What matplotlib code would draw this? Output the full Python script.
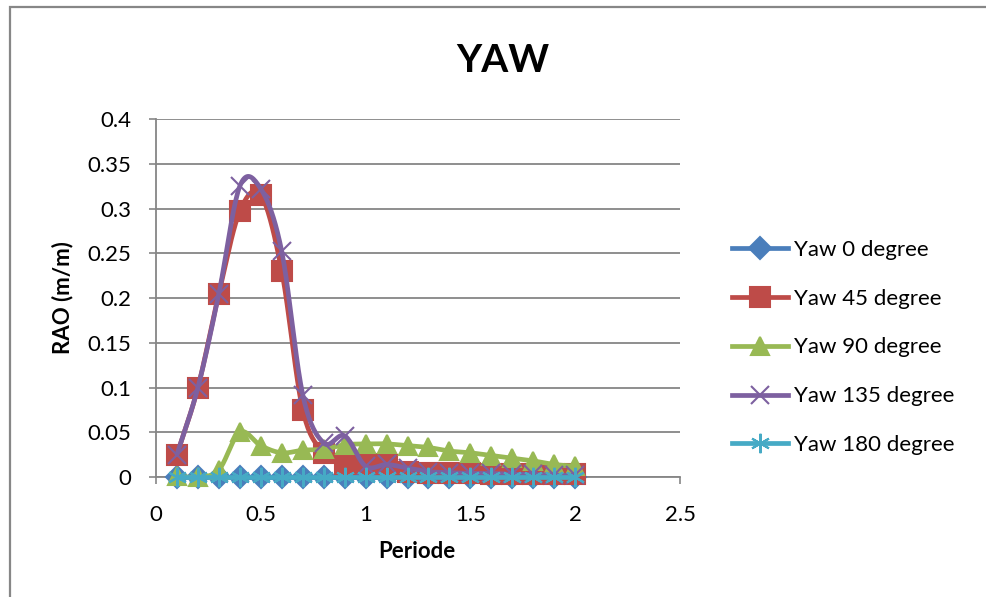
import numpy as np
import matplotlib.pyplot as plt
from matplotlib.patches import Rectangle

periode = [0.1, 0.2, 0.3, 0.4, 0.5, 0.6, 0.7, 0.8, 0.9, 1.0,
           1.1, 1.2, 1.3, 1.4, 1.5, 1.6, 1.7, 1.8, 1.9, 2.0]

yaw_0 = [0.0] * 20
yaw_45 = [0.025, 0.1, 0.205, 0.297, 0.315, 0.23, 0.075, 0.027, 0.015, 0.015,
          0.013, 0.006, 0.004, 0.004, 0.004, 0.003, 0.003, 0.003, 0.003, 0.003]
yaw_90 = [0.001, 0.0, 0.008, 0.05, 0.035, 0.027, 0.03, 0.031, 0.036, 0.037,
          0.037, 0.035, 0.033, 0.029, 0.027, 0.024, 0.021, 0.018, 0.014, 0.012]
yaw_135 = [0.025, 0.1, 0.205, 0.325, 0.322, 0.252, 0.092, 0.038, 0.046, 0.012,
           0.014, 0.01, 0.006, 0.005, 0.004, 0.004, 0.003, 0.003, 0.002, 0.002]
yaw_180 = [0.0] * 20

labels = ["Yaw 0 degree", "Yaw 45 degree", "Yaw 90 degree",
          "Yaw 135 degree", "Yaw 180 degree"]
x_ticks = [0, 0.5, 1, 1.5, 2, 2.5]
x_labels = ["0", "0.5", "1", "1.5", "2", "2.5"]
y_ticks = [0, 0.05, 0.1, 0.15, 0.2, 0.25, 0.3, 0.35, 0.4]
y_labels = ["0", "0.05", "0.1", "0.15", "0.2", "0.25", "0.3", "0.35", "0.4"]


def smooth(x, y, n=20):
    # Catmull-Rom curve through the points, like Excel's smoothed line
    x = np.asarray(x, float)
    y = np.asarray(y, float)
    px = np.concatenate([[2 * x[0] - x[1]], x, [2 * x[-1] - x[-2]]])
    py = np.concatenate([[2 * y[0] - y[1]], y, [2 * y[-1] - y[-2]]])
    t = np.linspace(0, 1, n, endpoint=False)
    xs, ys = [], []
    for i in range(1, len(px) - 2):
        for p, out in ((px, xs), (py, ys)):
            p0, p1, p2, p3 = p[i - 1], p[i], p[i + 1], p[i + 2]
            out.extend(0.5 * (2 * p1 + (-p0 + p2) * t
                              + (2 * p0 - 5 * p1 + 4 * p2 - p3) * t ** 2
                              + (-p0 + 3 * p1 - 3 * p2 + p3) * t ** 3))
    xs.append(x[-1])
    ys.append(y[-1])
    return xs, ys


plt.rcParams['font.family'] = ['Lato', 'DejaVu Sans']

fig = plt.figure(figsize=(9.87, 5.97), dpi=100)
ax = fig.add_axes([156 / 987, 1 - 477 / 597, 524 / 987, 358 / 597])

# outer chart frame
fig.patches.append(Rectangle((10 / 987, -0.2), 1.2, 1.2 - 6.5 / 597,
                             transform=fig.transFigure, fill=False,
                             edgecolor='#878787', linewidth=1.6))

series = [yaw_0, yaw_45, yaw_90, yaw_135, yaw_180]
colors = ['#4A7EBB', '#BE4B48', '#98B954', '#7D60A0', '#46AAC5']
markers = ['D', 's', '^', 'x', (6, 2, 0)]
sizes = [11, 14, 13, 13, 14]

for vals, lab, c, m, s in zip(series, labels, colors, markers, sizes):
    sx, sy = smooth(periode, vals)
    ax.plot(sx, sy, color=c, linewidth=3.4, solid_capstyle='round', zorder=3,
            clip_on=False)
    ax.plot(periode, vals, linestyle='none', marker=m, markersize=s,
            color=c, markeredgecolor=c, markeredgewidth=1.5, zorder=3,
            clip_on=False)
    ax.plot([], [], color=c, linewidth=3.4, marker=m, markersize=s,
            markeredgewidth=1.5, label=lab)

ax.set_xlim(0, 2.5)
ax.set_ylim(0, 0.4)
ax.set_xticks(x_ticks)
ax.set_xticklabels(x_labels)
ax.set_yticks(y_ticks)
ax.set_yticklabels(y_labels)
ax.tick_params(axis='both', labelsize=16, color='#868686', length=5, width=1.2)
ax.tick_params(axis='x', pad=15)
ax.tick_params(axis='y', pad=13)

ax.grid(axis='y', color='#868686', linewidth=1.3)
ax.set_axisbelow(True)
for side in ['top', 'right']:
    ax.spines[side].set_visible(False)
for side in ['left', 'bottom']:
    ax.spines[side].set_color('#868686')
    ax.spines[side].set_linewidth(1.3)

ax.text((417 - 156) / 524, (477 - 552) / 358, 'Periode', transform=ax.transAxes,
        fontsize=16, fontweight='bold', ha='center', va='center')
ax.text((63 - 156) / 524, 0.5, 'RAO (m/m)', transform=ax.transAxes,
        fontsize=16, fontweight='bold', ha='center', va='center',
        rotation=90)
fig.text(503 / 987, 1 - 61 / 597, 'YAW', fontsize=28, fontweight='bold',
         ha='center', va='center')

ax.legend(loc='center left', bbox_to_anchor=(1.1, 0.362), frameon=False,
          fontsize=16, handlelength=2.5, handletextpad=0.27, labelspacing=1.3,
          borderaxespad=0, borderpad=0)

fig.savefig('out.png', dpi=100)
